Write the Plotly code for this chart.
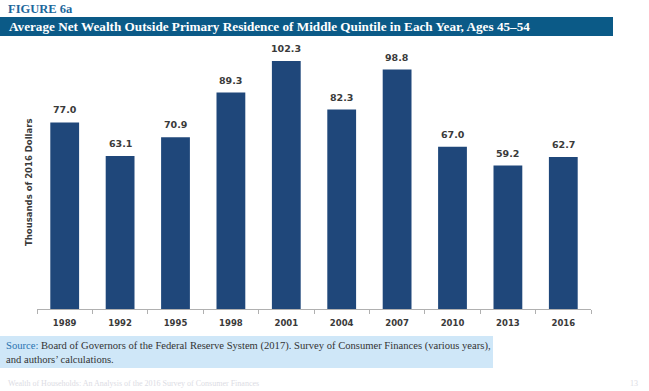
import plotly.graph_objects as go

years = ["1989", "1992", "1995", "1998", "2001", "2004", "2007", "2010", "2013", "2016"]
values = [77.0, 63.1, 70.9, 89.3, 102.3, 82.3, 98.8, 67.0, 59.2, 62.7]
labels = ["77.0", "63.1", "70.9", "89.3", "102.3", "82.3", "98.8", "67.0", "59.2", "62.7"]

W, H = 649, 391
L, R, T, B = 37, 591, 40, 309


def px2x(px):
    return (px - L) / (R - L)


def py2y(py):
    return (B - py) / (B - T)


fig = go.Figure()
fig.add_trace(go.Bar(
    x=years, y=values,
    marker=dict(color="#1f477a", line=dict(width=0)),
    hoverinfo="skip",
))

for i, (v, lab) in enumerate(zip(values, labels)):
    fig.add_annotation(
        x=i, y=v, xref="x", yref="y", text="<b>" + lab + "</b>",
        showarrow=False, yanchor="bottom", yshift=5,
        font=dict(family="DejaVu Sans", size=9.5, color="#3a3a3a"),
    )

# title bar and source box
fig.add_shape(type="rect", xref="paper", yref="paper",
              x0=px2x(0), x1=px2x(613), y0=py2y(36), y1=py2y(17),
              fillcolor="#0b5a87", line=dict(width=0), layer="below")
fig.add_shape(type="rect", xref="paper", yref="paper",
              x0=px2x(0), x1=px2x(493), y0=py2y(368), y1=py2y(336),
              fillcolor="#cfe7f8", line=dict(width=0), layer="below")

fig.add_annotation(
    xref="paper", yref="paper", x=px2x(6), y=py2y(9), xanchor="left", yanchor="middle",
    text="<b>FIGURE 6a</b>", showarrow=False,
    font=dict(family="Liberation Serif", size=12.5, color="#1c679c"),
)
fig.add_annotation(
    xref="paper", yref="paper", x=px2x(7), y=py2y(26.5), xanchor="left", yanchor="middle",
    text="<b>Average Net Wealth Outside Primary Residence of Middle Quintile in Each Year, Ages 45\u201354</b>",
    showarrow=False, font=dict(family="Liberation Serif", size=13.2, color="white"),
)
fig.add_annotation(
    xref="paper", yref="paper", x=px2x(4), y=py2y(352), xanchor="left", yanchor="middle",
    align="left",
    text="<span style='color:#2a73b0'>Source:</span> Board of Governors of the Federal Reserve System (2017). Survey of Consumer Finances (various years),<br>and authors\u2019 calculations.",
    showarrow=False, font=dict(family="Liberation Serif", size=10.6, color="#333333"),
)
fig.add_annotation(
    xref="paper", yref="paper", x=px2x(29), y=0.5 * (py2y(111) + py2y(253)),
    xanchor="center", yanchor="middle", textangle=-90,
    text="<b>Thousands of 2016 Dollars</b>", showarrow=False,
    font=dict(family="DejaVu Sans", size=8.5, color="#3a3a3a"),
)
fig.add_annotation(
    xref="paper", yref="paper", x=px2x(6), y=py2y(383), xanchor="left", yanchor="middle",
    text="Wealth of Households: An Analysis of the 2016 Survey of Consumer Finances",
    showarrow=False, font=dict(family="Liberation Serif", size=8, color="#dcdce4"),
)
fig.add_annotation(
    xref="paper", yref="paper", x=px2x(640), y=py2y(383), xanchor="right", yanchor="middle",
    text="13", showarrow=False, font=dict(family="Liberation Serif", size=8, color="#dcdce4"),
)

fig.update_layout(
    width=W, height=H,
    margin=dict(l=L, r=W - R, t=T, b=H - B, pad=0),
    paper_bgcolor="white", plot_bgcolor="white",
    bargap=0.48, showlegend=False,
    xaxis=dict(
        type="category", range=[-0.5, len(years) - 0.5], autorange=False,
        showline=True, linecolor="#b0b0b0", linewidth=1,
        ticks="outside", tickson="boundaries", ticklen=4, tickcolor="#b0b0b0",
        ticklabelstandoff=6,
        showgrid=False, zeroline=False,
        tickfont=dict(family="DejaVu Sans", size=8.5, color="#3a3a3a"),
        tickprefix="<b>", ticksuffix="</b>",
    ),
    yaxis=dict(range=[0, 111], visible=False, showgrid=False, zeroline=False),
)

fig.write_html(
    "out.html",
    config={"displayModeBar": False},
    post_script="document.body.style.margin='0';document.body.style.overflow='hidden';",
)
